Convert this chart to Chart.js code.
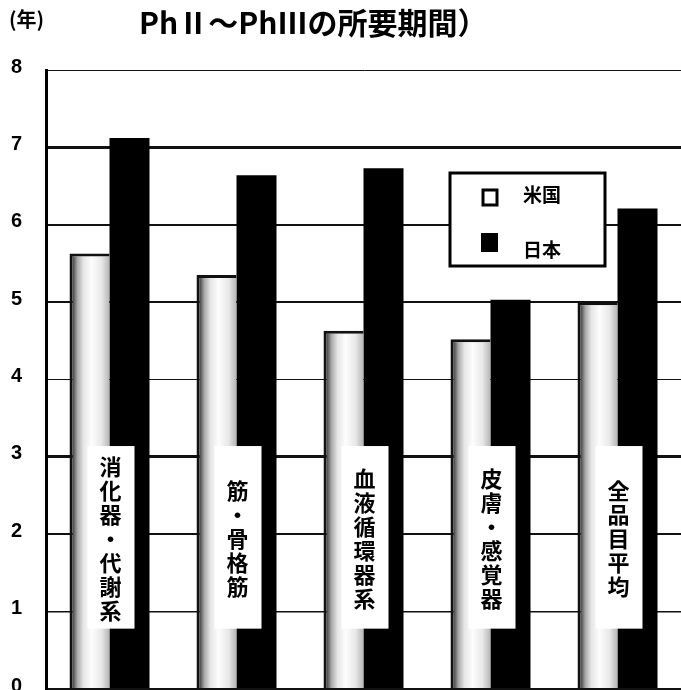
<!DOCTYPE html>
<html>
<head>
<meta charset="utf-8">
<script src="https://cdn.jsdelivr.net/npm/chart.js@4/dist/chart.umd.min.js"></script>
<style>
  html, body { margin: 0; padding: 0; background: #fff; overflow: hidden; }
  canvas { display: block; }
</style>
</head>
<body>
<canvas id="chart" width="681" height="690"></canvas>
<script>
// data
const categories = ['消化器・代謝系', '筋・骨格筋', '血液循環器系', '皮膚・感覚器', '全品目平均'];
const seriesNames = ['米国', '日本'];
const usValues = [5.63, 5.35, 4.63, 4.52, 5.0];
const jpValues = [7.12, 6.64, 6.73, 5.03, 6.21];
const yTicks = [0, 1, 2, 3, 4, 5, 6, 7, 8];
const unitLabel = '(年)';
const titleText = 'PhⅡ～PhⅢの所要期間）';

const JP = '"Noto Sans CJK JP", "Noto Sans", sans-serif';
const CAT_PCT = 0.63;

// light bar with dark left edge, like the scanned original
function usFill(c) {
  const chart = c.chart;
  const x = chart.scales && chart.scales.x;
  if (!x || c.dataIndex == null) return '#eee';
  const cw = (x.right - x.left) / categories.length;
  const cx = x.getPixelForValue(c.dataIndex);
  const l = cx - cw * CAT_PCT / 2;
  if (!isFinite(l) || !isFinite(cx) || cx - l < 1) return '#eee';
  const g = chart.ctx.createLinearGradient(l, 0, cx, 0);
  g.addColorStop(0, '#222');
  g.addColorStop(0.1, '#555');
  g.addColorStop(0.2, '#aaa');
  g.addColorStop(0.35, '#e6e6e6');
  g.addColorStop(0.55, '#fdfdfd');
  g.addColorStop(0.8, '#e8e8e8');
  g.addColorStop(1, '#b5b5b5');
  return g;
}

// gridline weights differ in the original
const gridWidths = { 0: 2, 1: 1.5, 2: 2, 3: 3, 4: 1, 5: 2, 6: 2, 7: 3, 8: 1 };

const headerPlugin = {
  id: 'header',
  afterDraw(chart) {
    const ctx = chart.ctx;
    ctx.save();
    ctx.fillStyle = '#000';
    ctx.textBaseline = 'middle';
    ctx.textAlign = 'left';
    ctx.font = 'bold 20px ' + JP;
    ctx.fillText(unitLabel, 9, 19);
    ctx.font = 'bold 30px ' + JP;
    ctx.fillText(titleText, 139, 23);
    ctx.restore();
  }
};

const catLabelPlugin = {
  id: 'catLabels',
  afterDatasetsDraw(chart) {
    const ctx = chart.ctx;
    const x = chart.scales.x, y = chart.scales.y;
    const top = y.getPixelForValue(3.14);
    const bottom = y.getPixelForValue(0.78);
    const mid = y.getPixelForValue(1.94);
    ctx.save();
    categories.forEach((name, i) => {
      const cx = x.getPixelForValue(i) + 1;
      ctx.fillStyle = '#fff';
      ctx.fillRect(cx - 23, top, 47, bottom - top);
      ctx.fillStyle = '#000';
      ctx.font = 'bold 22px ' + JP;
      ctx.textAlign = 'center';
      ctx.textBaseline = 'middle';
      const chars = Array.from(name);
      const pitch = 24;
      let cy = mid - (chars.length - 1) * pitch / 2;
      chars.forEach(ch => {
        ctx.fillText(ch, cx, cy);
        cy += pitch;
      });
    });
    ctx.restore();
  }
};

const legendPlugin = {
  id: 'boxLegend',
  afterDraw(chart) {
    const ctx = chart.ctx;
    ctx.save();
    ctx.fillStyle = '#fff';
    ctx.fillRect(450, 173, 155, 93);
    ctx.strokeStyle = '#000';
    ctx.lineWidth = 3;
    ctx.strokeRect(450, 173, 155, 93);
    // swatches
    ctx.strokeRect(483, 190, 14, 15);
    ctx.fillStyle = '#000';
    ctx.fillRect(481, 233, 17, 19);
    ctx.font = 'bold 19px ' + JP;
    ctx.textAlign = 'left';
    ctx.textBaseline = 'middle';
    ctx.fillText(seriesNames[0], 523, 195);
    ctx.fillText(seriesNames[1], 523, 250);
    ctx.restore();
  }
};

const ctx = document.getElementById('chart').getContext('2d');
new Chart(ctx, {
  type: 'bar',
  data: {
    labels: categories,
    datasets: [
      {
        label: seriesNames[0],
        data: usValues,
        backgroundColor: usFill,
        borderColor: '#111',
        borderWidth: { top: 3, left: 3, right: 0, bottom: 0 },
        borderSkipped: 'bottom'
      },
      {
        label: seriesNames[1],
        data: jpValues,
        backgroundColor: '#000',
        borderWidth: 0
      }
    ]
  },
  options: {
    responsive: false,
    animation: false,
    devicePixelRatio: 1,
    layout: { padding: { top: 70, bottom: 1, left: 0, right: 0 } },
    datasets: { bar: { categoryPercentage: CAT_PCT, barPercentage: 1 } },
    plugins: {
      legend: { display: false },
      tooltip: { enabled: false },
      title: { display: false }
    },
    scales: {
      x: { display: false },
      y: {
        min: 0,
        max: 8,
        afterBuildTicks: s => { s.ticks = yTicks.map(v => ({ value: v })); },
        afterFit: s => { s.width = 46; s.paddingTop = 0; s.paddingBottom = 0; },
        border: { display: true, color: '#000', width: 3 },
        grid: {
          color: '#111',
          drawTicks: false,
          lineWidth: c => gridWidths[c.tick.value] || 1
        },
        ticks: {
          color: '#000',
          padding: 24,
          labelOffset: -3,
          font: { family: '"Liberation Sans", Arial, sans-serif', size: 20, weight: 'bold' }
        }
      }
    }
  },
  plugins: [headerPlugin, catLabelPlugin, legendPlugin]
});
</script>
</body>
</html>
